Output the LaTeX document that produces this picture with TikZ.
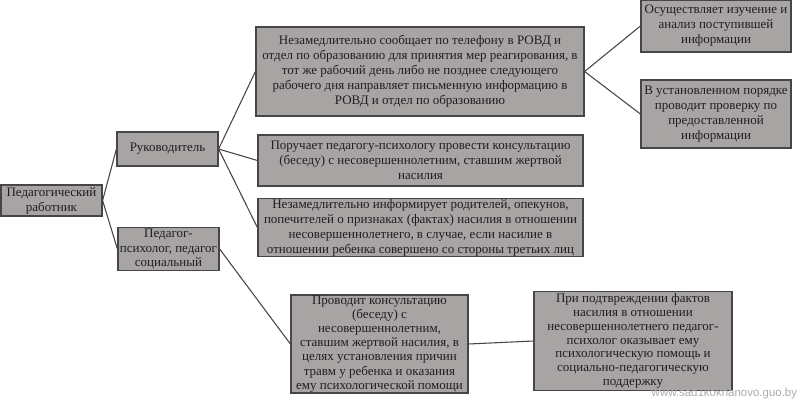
\documentclass[tikz,border=0pt]{standalone}
\usepackage{fontspec}
\setmainfont{Liberation Serif}
\newfontfamily\wmfont{Liberation Sans}
\definecolor{boxfill}{RGB}{168,164,164}
\definecolor{boxline}{RGB}{70,70,70}
\definecolor{txt}{RGB}{30,30,30}
\begin{document}
\begin{tikzpicture}[x=0.75pt,y=-0.75pt,
  box/.style={draw=boxline,fill=boxfill,line width=0.9pt,text=txt,align=center,
    inner sep=0.5pt,font=\fontsize{9.75}{11.2}\selectfont},
  link/.style={draw=boxline,line width=0.8pt}]
\useasboundingbox[fill=white] (0,0) rectangle (800,400);
\node[box,minimum width=101*0.75pt,minimum height=31*0.75pt] (pw) at (51.5,200.5) {Педагогический\\работник};
\node[box,minimum width=101*0.75pt,minimum height=34*0.75pt] (ruk) at (167.5,149) {Руководитель};
\node[box,minimum width=101*0.75pt,minimum height=42*0.75pt] (pp) at (168.5,249) {Педагог-\\психолог, педагог\\социальный};
\node[box,minimum width=328*0.75pt,minimum height=89*0.75pt] (b1) at (420,71.5) {Незамедлительно  сообщает по телефону в РОВД и\\отдел по образованию для принятия  мер реагирования,  в\\тот же рабочий день либо не позднее следующего\\рабочего дня направляет письменную  информацию  в\\РОВД и отдел по образованию};
\node[box,minimum width=325*0.75pt,minimum height=51*0.75pt] (b2) at (420.5,160.5) {Поручает педагогу-психологу  провести консультацию\\(беседу) с несовершеннолетним,  ставшим жертвой\\насилия};
\node[box,minimum width=325*0.75pt,minimum height=55*0.75pt] (b3) at (420.5,227.5) {Незамедлительно  информирует  родителей, опекунов,\\попечителей  о признаках  (фактах) насилия  в отношении\\несовершеннолетнего,  в случае, если насилие  в\\отношении  ребенка совершено со стороны третьих  лиц};
\node[box,minimum width=150*0.75pt,minimum height=52*0.75pt] (t1) at (716,26) {Осуществляет изучение и\\анализ  поступившей\\информации};
\node[box,minimum width=150*0.75pt,minimum height=68*0.75pt] (t2) at (716,114) {В установленном порядке\\проводит проверку по\\предоставленной\\информации};
\node[box,minimum width=177*0.75pt,minimum height=98*0.75pt,font=\fontsize{9.75}{10.6}\selectfont] (c1) at (379.5,344) {Проводит консультацию\\(беседу) с\\несовершеннолетним,\\ставшим жертвой насилия,  в\\целях установления  причин\\травм у ребенка и оказания\\ему психологической  помощи};
\node[box,minimum width=198*0.75pt,minimum height=99*0.75pt,font=\fontsize{9.75}{10.4}\selectfont] (c2) at (633,341) {При подтвреждении  фактов\\насилия  в отношении\\несовершеннолетнего  педагог-\\психолог оказывает ему\\психологическую  помощь и\\социально-педагогическую\\поддержку};
\draw[link] (pw.east) -- (ruk.west);
\draw[link] (pw.east) -- (pp.west);
\draw[link] (ruk.east) -- (b1.west);
\draw[link] (ruk.east) -- (b2.west);
\draw[link] (ruk.east) -- (b3.west);
\draw[link] (b1.east) -- (t1.west);
\draw[link] (b1.east) -- (t2.west);
\draw[link] (pp.east) -- (c1.west);
\draw[link] (c1.east) -- (c2.west);
\node[anchor=south east,inner sep=0.5pt,text=gray!65,font=\wmfont\fontsize{8.6}{9}\selectfont] (wm) at (798,400) {www.sad1kokhanovo.guo.by};
\end{tikzpicture}
\end{document}
